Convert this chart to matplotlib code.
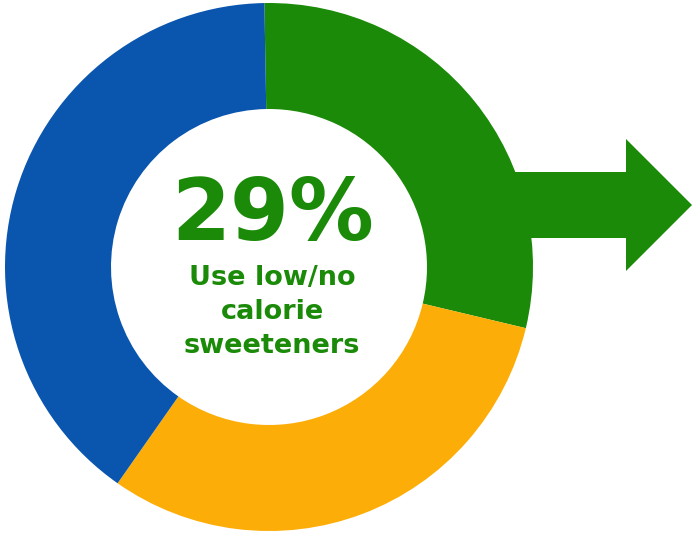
import matplotlib
matplotlib.use("Agg")
import matplotlib.pyplot as plt
from matplotlib.patches import Polygon

# Data
categories = ["Use low/no calorie sweeteners", "Other 1", "Other 2"]
values = [29, 31, 40]
colors = ["#1a8a08", "#fdad07", "#0a55ad"]
headline = "29%"
subtitle = "Use low/no\ncalorie\nsweeteners"

W, H = 693, 533
fig = plt.figure(figsize=(W / 100, H / 100), dpi=100)
ax = fig.add_axes([0, 0, 1, 1])

cx, cy, R, r = 269, 267, 264, 158

# Arrow (drawn below the ring)
arrow = Polygon([(500, 172), (626, 172), (626, 139), (692, 205),
                 (626, 271), (626, 238), (500, 238)],
                closed=True, facecolor=colors[0], edgecolor="none", zorder=1)
ax.add_patch(arrow)

# y-axis is inverted, so counterclock in data = clockwise on screen
wedges, _ = ax.pie(values, colors=colors, startangle=-91, counterclock=True,
                   center=(cx, cy), radius=R,
                   wedgeprops=dict(width=R - r, edgecolor="none", linewidth=0))
for w in wedges:
    w.set_zorder(2)
ax.set_xlim(0, W)
ax.set_ylim(H, 0)
ax.set_aspect("auto")
ax.axis("off")

ax.text(273, 240, headline, ha="center", va="baseline", fontsize=61,
        fontweight="bold", color=colors[0], family="DejaVu Sans", zorder=3)
ax.text(272, 312, subtitle, ha="center", va="center", fontsize=19.5,
        fontweight="bold", color=colors[0], family="DejaVu Sans",
        linespacing=1.38, zorder=3)

fig.savefig("out.png", dpi=100)
